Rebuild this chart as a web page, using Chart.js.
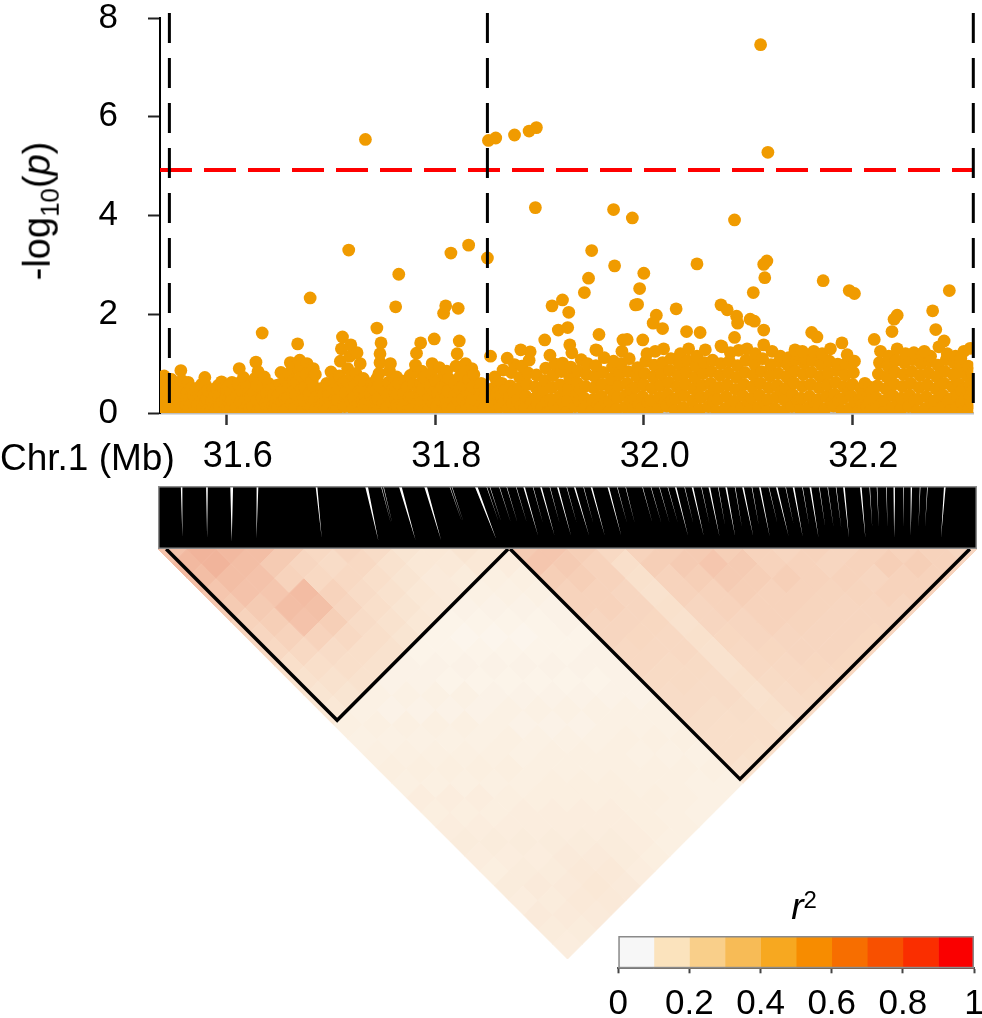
<!DOCTYPE html>
<html><head><meta charset="utf-8">
<script src="https://cdn.jsdelivr.net/npm/chart.js@4.4.1/dist/chart.umd.min.js"></script>
<style>
html,body{margin:0;padding:0;background:#fff;overflow:hidden;}
body{width:982px;height:1018px;position:relative;font-family:"Liberation Sans",Arial,sans-serif;color:#000;}
.box{position:absolute;}
.lbl{position:absolute;white-space:nowrap;line-height:1;}
</style></head><body>
<div class="box" style="left:0;top:0;width:982px;height:480px"><canvas id="manhattan"></canvas></div>
<div class="box" style="left:158px;top:486px;width:819px;height:63px"><canvas id="band"></canvas></div>
<div class="box" style="left:158px;top:549px;width:819px;height:410px"><canvas id="ld"></canvas></div>
<div class="box" style="left:580px;top:926px;width:420px;height:92px"><canvas id="cbar"></canvas></div>
<div class="lbl" style="left:40px;top:211px;font-size:38px;transform:translate(-50%,-50%) rotate(-90deg);">-log<sub style="font-size:26px;">10</sub>(<i>p</i>)</div>
<div class="lbl" style="left:0px;top:440px;font-size:37px;line-height:36px;">Chr.1 (Mb)</div>
<div class="lbl" style="left:804px;top:889px;font-size:37px;line-height:36px;transform:translateX(-50%);"><i>r</i><span style="font-size:24px;position:relative;top:-11px;">2</span></div>
<script>
// ---------------- DATA ----------------
const xMin = 31.536, xMax = 32.316;
const xTicks = [31.6, 31.8, 32.0, 32.2];
const yTicks = [0, 2, 4, 6, 8];
const threshold = 4.92;
const boundaryLines = [31.545, 31.85, 32.316];
const blockStarts = [31.545, 31.852];
const blockEnds = [31.8495, 32.3112];

// SNPs left of 31.85 Mb: [position (Mb), -log10(p)]
const leftSnps = [
[31.537,.06],[31.538,.32],[31.539,.55],[31.540,.75],[31.541,.18],[31.542,.44],[31.543,.12],[31.544,.25],
[31.545,.12],[31.546,.40],[31.547,.68],[31.548,.25],[31.549,.52],[31.550,.05],[31.551,.35],[31.552,.60],
[31.553,.05],[31.554,.30],[31.555,.55],[31.556,.86],[31.556,.20],[31.557,.42],[31.557,.66],[31.558,.13],
[31.561,.15],[31.562,.42],[31.563,.62],[31.564,.08],[31.565,.30],[31.566,.50],[31.567,.22],[31.568,.36],
[31.569,.07],[31.570,.28],[31.571,.50],[31.572,.16],[31.573,.38],[31.574,.04],[31.575,.45],[31.576,.58],
[31.577,.10],[31.578,.38],[31.579,.72],[31.580,.24],[31.580,.55],[31.581,.05],[31.581,.30],[31.582,.46],
[31.585,.04],[31.586,.25],[31.587,.48],[31.588,.14],[31.589,.36],[31.590,.08],[31.591,.40],[31.592,.56],
[31.593,.13],[31.594,.40],[31.595,.63],[31.596,.22],[31.597,.50],[31.598,.06],[31.599,.30],[31.600,.47],
[31.601,.06],[31.602,.30],[31.602,.55],[31.603,.18],[31.604,.42],[31.604,.10],[31.605,.26],[31.605,.62],
[31.609,.10],[31.610,.35],[31.611,.60],[31.612,.90],[31.613,.22],[31.614,.46],[31.615,.04],[31.616,.72],
[31.617,.05],[31.618,.28],[31.619,.52],[31.620,.15],[31.621,.40],[31.622,.09],[31.623,.34],[31.624,.60],
[31.625,.12],[31.626,.42],[31.627,.70],[31.628,1.03],[31.629,.25],[31.629,.55],[31.630,.06],[31.630,.84],
[31.633,.08],[31.634,.30],[31.635,.50],[31.636,.73],[31.637,.18],[31.638,.40],[31.639,.12],[31.640,.60],
[31.641,.04],[31.642,.26],[31.643,.48],[31.644,.14],[31.645,.36],[31.646,.10],[31.647,.20],[31.648,.56],[31.648,.31],
[31.649,.11],[31.650,.36],[31.651,.58],[31.652,.82],[31.653,.22],[31.654,.46],[31.655,.05],[31.656,.68],[31.656,.29],
[31.657,.06],[31.658,.30],[31.659,.55],[31.660,.80],[31.661,1.02],[31.662,.18],[31.663,.42],[31.664,.66],[31.664,.92],
[31.665,.10],[31.666,.38],[31.667,.62],[31.669,.88],[31.670,1.07],[31.671,.24],[31.672,.50],[31.672,.74],[31.671,.97],
[31.673,.05],[31.674,.28],[31.675,.52],[31.676,.78],[31.677,1.00],[31.678,.16],[31.679,.40],[31.681,.64],[31.680,.90],
[31.681,.12],[31.682,.40],[31.682,.65],[31.683,.90],[31.684,.25],[31.684,.52],[31.685,.06],[31.685,.78],[31.686,.33],
[31.689,.07],[31.690,.30],[31.691,.50],[31.692,.18],[31.693,.40],[31.694,.10],[31.695,.24],[31.696,.60],[31.696,.35],
[31.697,.10],[31.698,.35],[31.699,.57],[31.700,.83],[31.701,.22],[31.702,.46],[31.703,.04],[31.704,.68],[31.704,.28],
[31.705,.05],[31.706,.27],[31.707,.50],[31.708,.75],[31.709,1.05],[31.710,1.30],[31.711,1.54],[31.712,.16],[31.712,.62],
[31.713,.13],[31.714,.40],[31.715,.65],[31.716,.90],[31.718,1.15],[31.719,1.38],[31.719,.26],[31.720,.52],[31.720,.78],
[31.721,.08],[31.722,.32],[31.723,.55],[31.724,.80],[31.725,1.22],[31.726,.18],[31.727,.44],[31.728,.68],[31.728,1.00],
[31.729,.04],[31.730,.25],[31.730,.48],[31.731,.70],[31.731,.14],[31.732,.36],[31.732,.58],[31.733,.20],[31.733,.42],
[31.737,.11],[31.738,.38],[31.739,.60],[31.740,.22],[31.741,.50],[31.742,.06],[31.743,.30],[31.744,.70],[31.743,.45],
[31.745,.06],[31.745,.30],[31.746,.55],[31.746,.80],[31.747,1.02],[31.747,1.20],[31.748,1.42],[31.750,.18],[31.752,.42],
[31.753,.10],[31.754,.36],[31.755,.62],[31.756,.85],[31.757,1.00],[31.758,.22],[31.759,.48],[31.760,.72],
[31.761,.05],[31.762,.28],[31.762,.52],[31.763,.73],[31.763,.16],[31.764,.40],[31.764,.10],[31.765,.60],
[31.769,.12],[31.770,.40],[31.771,.65],[31.772,.24],[31.773,.52],[31.774,.05],[31.775,.32],[31.776,.76],
[31.777,.07],[31.778,.32],[31.779,.58],[31.780,.82],[31.781,.97],[31.782,1.21],[31.783,.20],[31.784,.45],
[31.785,.10],[31.786,.36],[31.786,.60],[31.787,.85],[31.787,.22],[31.788,.48],[31.788,.04],[31.789,.72],
[31.793,.05],[31.794,.30],[31.795,.55],[31.796,.80],[31.797,1.00],[31.798,.18],[31.799,.42],[31.800,.66],
[31.801,.12],[31.802,.40],[31.803,.65],[31.804,.92],[31.805,.26],[31.806,.52],[31.807,.06],[31.808,.78],
[31.809,.06],[31.810,.32],[31.810,.58],[31.811,.85],[31.811,.20],[31.812,.45],[31.812,.10],[31.813,.70],
[31.817,.10],[31.818,.35],[31.819,.60],[31.820,.95],[31.821,1.20],[31.822,.24],[31.823,.48],[31.824,.75],
[31.825,.04],[31.826,.28],[31.827,.55],[31.828,.82],[31.829,1.00],[31.830,.16],[31.831,.40],[31.832,.68],
[31.833,.12],[31.834,.40],[31.834,.68],[31.835,.90],[31.835,.25],[31.836,.54],[31.836,.06],[31.837,.78],
[31.841,.06],[31.842,.30],[31.843,.52],[31.844,.60],[31.845,.18],[31.846,.42],[31.847,.10],[31.848,.35]
];
const leftPeaks = [
[31.634,1.62],[31.668,1.40],[31.680,2.33],[31.717,3.30],[31.733,5.54],[31.744,1.72],
[31.762,2.15],[31.765,2.81],[31.786,1.42],[31.799,1.50],[31.808,2.02],[31.810,2.17],
[31.815,3.24],[31.822,2.12],[31.823,1.46],[31.832,3.40],[31.850,3.14],[31.851,5.52]
];
// SNPs right of 31.85 Mb
const rightSnps = [
[31.854,.05],[31.855,.27],[31.856,.51],[31.857,.73],[31.858,.16],[31.859,.40],[31.860,.62],
[31.862,.12],[31.863,.36],[31.864,.60],[31.865,.87],[31.866,.22],[31.867,.47],
[31.870,.08],[31.871,.31],[31.872,.55],[31.873,.82],[31.874,.19],[31.875,.43],[31.876,.98],
[31.878,.03],[31.879,.26],[31.880,.49],[31.881,.72],[31.882,.14],[31.883,.95],
[31.886,.10],[31.887,.34],[31.888,.58],[31.889,.81],[31.890,1.07],[31.891,1.24],[31.892,.21],
[31.894,.06],[31.895,.29],[31.896,.53],[31.897,.77],[31.898,.17],[31.899,.41],
[31.902,.11],[31.903,.35],[31.904,.47],[31.905,.66],[31.906,.91],[31.907,.23],[31.908,.02],
[31.910,.04],[31.911,.28],[31.912,.52],[31.913,.76],[31.914,.16],[31.915,.99],
[31.918,.09],[31.919,.33],[31.920,.57],[31.921,.84],[31.922,1.01],[31.923,.21],[31.924,.45],
[31.926,.02],[31.927,.25],[31.928,.49],[31.929,.71],[31.930,.93],[31.931,1.22],
[31.934,.13],[31.935,.37],[31.936,.61],[31.937,.85],[31.938,.24],[31.939,.48],[31.940,1.08],
[31.942,.07],[31.943,.30],[31.944,.54],[31.945,.78],[31.946,1.00],[31.947,.19],
[31.950,.04],[31.951,.27],[31.952,.51],[31.953,.74],[31.954,.96],[31.955,1.27],[31.956,.16],
[31.958,.10],[31.959,.34],[31.960,.58],[31.961,.82],[31.962,1.12],[31.963,.22],
[31.966,.01],[31.967,.24],[31.968,.48],[31.969,.69],[31.970,.93],[31.971,1.05],[31.972,.36],
[31.974,.08],[31.975,.31],[31.976,.55],[31.977,.79],[31.978,1.00],[31.979,1.25],
[31.982,.12],[31.983,.36],[31.984,.60],[31.985,.84],[31.986,1.10],[31.987,.24],[31.988,.47],
[31.990,.05],[31.991,.29],[31.992,.52],[31.993,.75],[31.994,.92],[31.995,.17],
[31.998,.10],[31.999,.33],[32.000,.57],[32.001,.80],[32.002,1.05],[32.003,1.20],[32.004,.22],
[32.006,.03],[32.007,.26],[32.008,.50],[32.009,.73],[32.010,.97],[32.011,1.25],
[32.014,.09],[32.015,.32],[32.016,.56],[32.017,.79],[32.018,1.02],[32.019,1.30],[32.020,.20],
[32.022,.14],[32.023,.38],[32.024,.62],[32.025,.86],[32.026,1.10],[32.027,.26],
[32.030,.06],[32.031,.29],[32.032,.53],[32.033,.76],[32.034,.99],[32.035,1.20],[32.036,.41],
[32.038,.11],[32.039,.35],[32.040,.59],[32.041,.83],[32.042,1.06],[32.043,1.30],
[32.046,.02],[32.047,.25],[32.048,.49],[32.049,.72],[32.050,.95],[32.051,1.15],[32.052,.37],
[32.054,.08],[32.055,.32],[32.056,.56],[32.057,.80],[32.058,1.02],[32.059,1.28],
[32.062,.13],[32.063,.36],[32.064,.60],[32.065,.84],[32.066,1.07],[32.067,.24],[32.068,.48],
[32.070,.04],[32.071,.28],[32.072,.52],[32.073,.76],[32.074,1.00],[32.075,1.34],
[32.078,.09],[32.079,.33],[32.080,.57],[32.081,.81],[32.082,1.05],[32.083,1.22],[32.084,.21],
[32.086,.01],[32.087,.24],[32.088,.48],[32.089,.72],[32.090,.96],[32.091,1.27],
[32.094,.11],[32.095,.35],[32.096,.58],[32.097,.82],[32.098,1.07],[32.099,1.30],[32.100,.23],
[32.102,.06],[32.103,.30],[32.104,.53],[32.105,.77],[32.106,1.00],[32.107,1.20],
[32.110,.12],[32.111,.36],[32.112,.60],[32.113,.84],[32.114,1.10],[32.115,1.38],[32.116,.24],
[32.118,.04],[32.119,.27],[32.120,.51],[32.121,.75],[32.122,.98],[32.123,1.25],
[32.126,.09],[32.127,.32],[32.128,.56],[32.129,.80],[32.130,1.04],[32.131,1.15],[32.132,.44],
[32.134,.02],[32.135,.26],[32.136,.50],[32.137,.73],[32.138,.97],[32.139,1.12],
[32.142,.13],[32.143,.37],[32.144,.61],[32.145,.85],[32.146,1.08],[32.147,1.20],[32.148,.25],
[32.150,.07],[32.151,.30],[32.152,.54],[32.153,.78],[32.154,1.01],[32.155,1.10],
[32.158,.11],[32.159,.34],[32.160,.58],[32.161,.82],[32.162,1.06],[32.163,1.25],[32.164,.22],
[32.166,.03],[32.167,.27],[32.168,.51],[32.169,.74],[32.170,.98],[32.171,1.20],
[32.174,.09],[32.175,.33],[32.176,.57],[32.177,.81],[32.178,1.05],[32.179,1.30],[32.180,.21],
[32.182,.14],[32.183,.38],[32.184,.62],[32.185,.86],[32.186,.99],[32.187,.26],
[32.190,.05],[32.191,.29],[32.192,.53],[32.193,.77],[32.194,1.00],[32.195,1.18],[32.196,.41],
[32.198,.10],[32.199,.34],[32.200,.58],[32.201,.82],[32.202,1.05],[32.203,.22],
[32.206,.04],[32.207,.27],[32.208,.50],[32.209,.16],[32.210,.39],[32.211,.10],[32.212,.60],
[32.214,.12],[32.215,.35],[32.216,.53],[32.217,.24],[32.218,.06],[32.219,.45],
[32.222,.07],[32.223,.31],[32.224,.55],[32.225,.79],[32.226,1.02],[32.227,1.25],[32.228,.19],
[32.230,.02],[32.231,.25],[32.232,.49],[32.233,.73],[32.234,.96],[32.235,1.15],
[32.238,.11],[32.239,.35],[32.240,.59],[32.241,.83],[32.242,1.07],[32.243,1.30],[32.244,.23],
[32.246,.06],[32.247,.30],[32.248,.54],[32.249,.78],[32.250,1.02],[32.251,1.20],
[32.254,.13],[32.255,.36],[32.256,.60],[32.257,.84],[32.258,1.08],[32.259,1.22],[32.260,.25],
[32.262,.04],[32.263,.28],[32.264,.52],[32.265,.76],[32.266,1.00],[32.267,1.20],
[32.270,.09],[32.271,.33],[32.272,.57],[32.273,.81],[32.274,1.05],[32.275,1.15],[32.276,.21],
[32.278,.01],[32.279,.25],[32.280,.49],[32.281,.73],[32.282,.97],[32.283,1.34],
[32.286,.12],[32.287,.36],[32.288,.60],[32.289,.84],[32.290,1.08],[32.291,1.20],[32.292,.24],
[32.294,.05],[32.295,.29],[32.296,.53],[32.297,.77],[32.298,1.01],[32.299,1.15],
[32.300,.10],[32.301,.34],[32.302,.58],[32.303,.82],[32.304,1.00],[32.305,.22],[32.305,.46],
[32.306,.03],[32.308,.27],[32.309,.51],[32.310,.75],[32.311,.95],
[32.312,.08],[32.313,.32],[32.313,.56],[32.314,.20],[32.315,.44],[32.315,.80]
];
const rightPeaks = [
[31.858,5.57],[31.876,5.63],[31.890,5.71],[31.897,5.78],[31.896,4.16],[31.971,4.12],
[31.989,3.95],[32.087,3.91],[32.112,7.46],[32.119,5.28],[31.950,3.29],[31.972,2.98],
[32.051,3.02],[32.000,2.83],[31.996,2.52],[31.992,2.19],[31.994,2.20],[31.947,2.73],
[31.943,2.44],[31.922,2.29],[31.912,2.17],[31.928,2.04],[32.118,3.08],[32.115,3.01],
[32.116,2.74],[32.105,2.44],[32.172,2.68],[32.197,2.48],[32.202,2.42],[32.293,2.48],
[32.277,2.07],[32.280,1.69],[32.288,1.46],[32.243,1.98],[32.240,1.90],[32.238,1.65],
[32.031,2.11],[32.074,2.19],[32.080,2.09],[32.089,1.96],[32.090,1.82],[32.102,1.90],
[32.106,1.86],[32.087,1.53],[32.115,1.68],[32.012,1.98],[32.009,1.82],[32.018,1.71],
[32.041,1.65],[32.054,1.63],[31.957,1.59],[32.161,1.63],[32.166,1.54],[32.190,1.42],
[31.918,1.68],[31.927,1.73],[31.929,1.38],[31.905,1.48],[31.853,1.15],[31.869,1.11],
[31.882,1.28],[31.910,1.17],[31.980,1.48],[31.984,1.49],[31.999,1.48],[31.954,1.28],
[32.074,1.36],[32.145,1.28],[32.152,1.25],[32.221,1.49],[32.269,1.25],[32.307,1.25],
[32.313,1.31],[32.304,1.11]
];

// LD (r^2) between SNP bins (28 equal bins along the SNP order), upper triangle rows
const ldRows = [
[.38,.42,.40,.36,.34,.30,.28,.26,.22,.20,.18,.16,.10,.09,.10,.11,.10,.12,.11,.12,.13,.12,.11,.13,.12,.14,.13,.12],
[.44,.44,.40,.38,.34,.32,.30,.26,.22,.20,.18,.09,.10,.09,.10,.11,.10,.12,.11,.12,.13,.12,.13,.14,.13,.14,.13],
[.42,.40,.38,.36,.40,.38,.30,.24,.22,.20,.09,.08,.10,.09,.10,.11,.10,.12,.11,.12,.13,.12,.13,.14,.15,.14],
[.40,.34,.30,.41,.39,.32,.26,.22,.20,.08,.09,.08,.10,.09,.10,.11,.10,.11,.12,.12,.13,.14,.15,.16,.15],
[.34,.28,.26,.30,.28,.24,.22,.20,.08,.08,.09,.08,.10,.09,.10,.11,.10,.11,.12,.12,.13,.14,.15,.14],
[.26,.24,.26,.24,.22,.20,.18,.07,.08,.07,.09,.08,.09,.10,.09,.10,.11,.11,.12,.12,.13,.13,.12],
[.28,.26,.22,.20,.18,.16,.07,.07,.08,.07,.08,.09,.08,.09,.10,.10,.11,.11,.12,.12,.12,.11],
[.24,.20,.18,.16,.15,.07,.06,.07,.08,.07,.08,.09,.08,.09,.10,.10,.11,.11,.11,.11,.10],
[.18,.16,.14,.14,.08,.07,.06,.07,.08,.07,.08,.09,.08,.09,.10,.10,.10,.11,.10,.10],
[.16,.15,.13,.09,.08,.07,.06,.07,.08,.07,.08,.09,.09,.10,.09,.10,.10,.10,.09],
[.18,.16,.10,.09,.08,.07,.07,.07,.08,.07,.08,.09,.09,.10,.09,.10,.09,.09],
[.16,.12,.10,.09,.08,.08,.07,.08,.08,.08,.08,.09,.09,.10,.09,.10,.09],
[.34,.36,.32,.30,.30,.28,.28,.26,.26,.25,.24,.24,.23,.22,.22,.20],
[.36,.34,.32,.30,.30,.28,.27,.26,.25,.25,.24,.23,.22,.22,.21],
[.32,.30,.30,.28,.28,.27,.26,.26,.25,.24,.24,.23,.22,.22],
[.26,.22,.21,.20,.21,.20,.21,.20,.20,.21,.20,.21,.20],
[.30,.32,.30,.30,.28,.28,.27,.26,.26,.25,.24,.24],
[.32,.34,.32,.30,.30,.28,.28,.27,.26,.26,.25],
[.34,.36,.34,.32,.30,.30,.28,.28,.27,.26],
[.32,.34,.32,.30,.30,.29,.28,.28,.27],
[.30,.30,.32,.30,.29,.28,.28,.27],
[.28,.30,.30,.29,.28,.28,.27],
[.30,.28,.30,.29,.28,.28],
[.28,.30,.28,.30,.28],
[.30,.32,.30,.30],
[.30,.32,.30],
[.30,.30],
[.28]
];

// colour key
const r2Breaks = [0,0.1,0.2,0.3,0.4,0.5,0.6,0.7,0.8,0.9,1];
const r2Ticks = [0,0.2,0.4,0.6,0.8,1];
const r2Colors = ['#F7F7F7','#FBE3BD','#F9CF8A','#F7BB56','#F7A820','#F78C00','#F76E00','#F85000','#FA2E00','#FA0000'];

// ---------------- STYLE HELPERS ----------------
Chart.defaults.font.family = '"Liberation Sans", Arial, sans-serif';
Chart.defaults.color = '#000';
const heatStops = [0, 0.1, 0.2, 0.3, 0.4, 0.5, 1];
const heatRGB = [[253,252,250],[251,240,226],[249,226,206],[247,211,188],[243,190,165],[238,165,140],[225,60,40]];
function heatColor(v) {
  for (let i = 1; i < heatStops.length; i++) {
    if (v <= heatStops[i]) {
      const t = (v - heatStops[i-1]) / (heatStops[i] - heatStops[i-1]);
      const c = heatRGB[i-1].map((a, k) => Math.round(a + (heatRGB[i][k] - a) * Math.max(0, t)));
      return `rgb(${c[0]},${c[1]},${c[2]})`;
    }
  }
  const c = heatRGB[heatRGB.length-1];
  return `rgb(${c[0]},${c[1]},${c[2]})`;
}
const framePlugin = {
  id: 'frame',
  afterDatasetsDraw(chart, args, opts) {
    if (!opts || !opts.color) return;
    const {left, top, right, bottom} = chart.chartArea;
    const c = chart.ctx, w = opts.width;
    c.save(); c.strokeStyle = opts.color; c.lineWidth = w;
    c.strokeRect(left + w/2, top + w/2, right - left - w, bottom - top - w);
    c.restore();
  }
};
const noPad = s => { s.paddingLeft = 0; s.paddingRight = 0; s.paddingTop = 0; s.paddingBottom = 0; };

// ---------------- MANHATTAN PLOT ----------------
const allSnps = leftSnps.concat(leftPeaks, rightSnps, rightPeaks);
const snpPoints = allSnps.map(d => ({x: d[0], y: d[1]}));
const dashedV = boundaryLines.map(v => ({
  data: [{x: v, y: 8.1}, {x: v, y: 0}], showLine: true, borderColor: '#000', borderWidth: 3,
  borderDash: [30, 15], pointRadius: 0, clip: false, order: 0
}));
new Chart(document.getElementById('manhattan'), {
  type: 'scatter',
  data: { datasets: [
    ...dashedV,
    { data: [{x: xMin, y: threshold}, {x: xMax, y: threshold}], showLine: true, borderColor: '#FF0000',
      borderWidth: 4, borderDash: [32, 12], pointRadius: 0, clip: false, order: 1 },
    { data: snpPoints, backgroundColor: '#F09B00', borderWidth: 0, pointRadius: 6.4, clip: 0, order: 2 }
  ]},
  options: {
    animation: false, responsive: true, maintainAspectRatio: false, events: [],
    layout: { padding: { top: 18, right: 8.7, left: 0, bottom: 0 } },
    plugins: { legend: { display: false }, tooltip: { enabled: false } },
    scales: {
      x: { type: 'linear', min: xMin, max: xMax,
        afterBuildTicks: s => { s.ticks = xTicks.map(v => ({value: v})); },
        afterFit: s => { s.height = 67; noPad(s); },
        ticks: { callback: v => Number(v).toFixed(1), font: { size: 36 }, color: '#000', padding: 10, labelOffset: 11, maxRotation: 0, autoSkip: false },
        grid: { drawOnChartArea: false, drawTicks: true, tickLength: 12, tickWidth: 2.5, tickColor: '#333' },
        border: { display: true, color: '#BEBEBE', width: 2.5 } },
      y: { type: 'linear', min: 0, max: 8,
        afterBuildTicks: s => { s.ticks = yTicks.map(v => ({value: v})); },
        afterFit: s => { s.width = 160; noPad(s); },
        ticks: { font: { size: 35, lineHeight: 1 }, color: '#000', padding: 30 },
        grid: { drawOnChartArea: false, drawTicks: true, tickLength: 12, tickWidth: 2, tickColor: '#222' },
        border: { display: true, color: '#000', width: 2 } }
    }
  }
});

// ---------------- LD: SNP map band ----------------
const K = ldRows.length;
const sortedPos = allSnps.map(d => d[0]).sort((a, b) => a - b);
const N = sortedPos.length;
const pMin = sortedPos[0], pMax = sortedPos[N-1];
const bandData = [];
sortedPos.forEach((p, k) => {
  const top = (p - pMin) / (pMax - pMin) * K;
  const bot = (k + 0.5) / N * K;
  bandData.push({x: top, y: 0}, {x: bot, y: 1}, {x: bot, y: null});
});
new Chart(document.getElementById('band'), {
  type: 'scatter',
  data: { datasets: [{ data: bandData, showLine: true, spanGaps: false, borderColor: '#000', borderWidth: 1.4, pointRadius: 0 }] },
  options: {
    animation: false, responsive: true, maintainAspectRatio: false, events: [],
    layout: { padding: 0 },
    plugins: { legend: { display: false }, tooltip: { enabled: false }, frame: { color: '#8c8c8c', width: 1.5 } },
    scales: { x: { type: 'linear', min: 0, max: K, display: false }, y: { type: 'linear', min: 0, max: 1, reverse: true, display: false } }
  },
  plugins: [framePlugin]
});

// ---------------- LD heatmap ----------------
const ldCells = [];
ldRows.forEach((row, a) => row.forEach((v, d) => { const b = a + d; ldCells.push({x: (a + b + 1) / 2, y: (b - a) / 2, v: v}); }));
const idxOf = p => sortedPos.filter(q => q < p).length / N * K;
const blockSets = blockStarts.map((s, i) => {
  const ia = idxOf(s), ib = idxOf(blockEnds[i]);
  return { data: [{x: ia, y: 0}, {x: (ia + ib) / 2, y: (ib - ia) / 2}, {x: ib, y: 0}], showLine: true,
    borderColor: '#000', borderWidth: 3.5, borderJoinStyle: 'miter', pointRadius: 0, clip: false, order: 0 };
});
const cellRadius = ctx => { const s = ctx.chart.scales.x; return s ? Math.abs(s.getPixelForValue(1) - s.getPixelForValue(0)) / 2 : 14.6; };
const cellColor = ctx => heatColor(ctx.raw && ctx.raw.v !== undefined ? ctx.raw.v : 0);
new Chart(document.getElementById('ld'), {
  type: 'scatter',
  data: { datasets: [
    ...blockSets,
    { data: ldCells, pointStyle: 'rectRot', pointRadius: cellRadius, backgroundColor: cellColor, borderColor: cellColor, borderWidth: 1, clip: 0, order: 5 }
  ]},
  options: {
    animation: false, responsive: true, maintainAspectRatio: false, events: [],
    layout: { padding: 0 },
    plugins: { legend: { display: false }, tooltip: { enabled: false } },
    scales: { x: { type: 'linear', min: 0, max: K, display: false }, y: { type: 'linear', min: 0, max: K / 2, reverse: true, display: false } }
  }
});

// ---------------- colour key ----------------
new Chart(document.getElementById('cbar'), {
  type: 'bar',
  data: { labels: ['r2'], datasets: r2Colors.map((c, i) => ({ data: [[r2Breaks[i], r2Breaks[i+1]]], backgroundColor: c, borderWidth: 0, grouped: false, barPercentage: 1, categoryPercentage: 1 })) },
  options: {
    indexAxis: 'y', animation: false, responsive: true, maintainAspectRatio: false, events: [],
    layout: { padding: { left: 38.3, right: 26, top: 10, bottom: 0 } },
    plugins: { legend: { display: false }, tooltip: { enabled: false }, frame: { color: '#8a8a8a', width: 1.5 } },
    scales: {
      x: { type: 'linear', min: 0, max: 1,
        afterBuildTicks: s => { s.ticks = r2Ticks.map(v => ({value: v})); },
        afterFit: s => { s.height = 49.7; noPad(s); },
        ticks: { font: { size: 35 }, color: '#000', padding: 10, callback: v => String(v), maxRotation: 0, autoSkip: false },
        grid: { drawOnChartArea: false, drawTicks: true, tickLength: 5, tickWidth: 2, tickColor: '#444' },
        border: { display: true, color: '#555', width: 2 } },
      y: { display: false }
    }
  },
  plugins: [framePlugin]
});
</script>
</body></html>
